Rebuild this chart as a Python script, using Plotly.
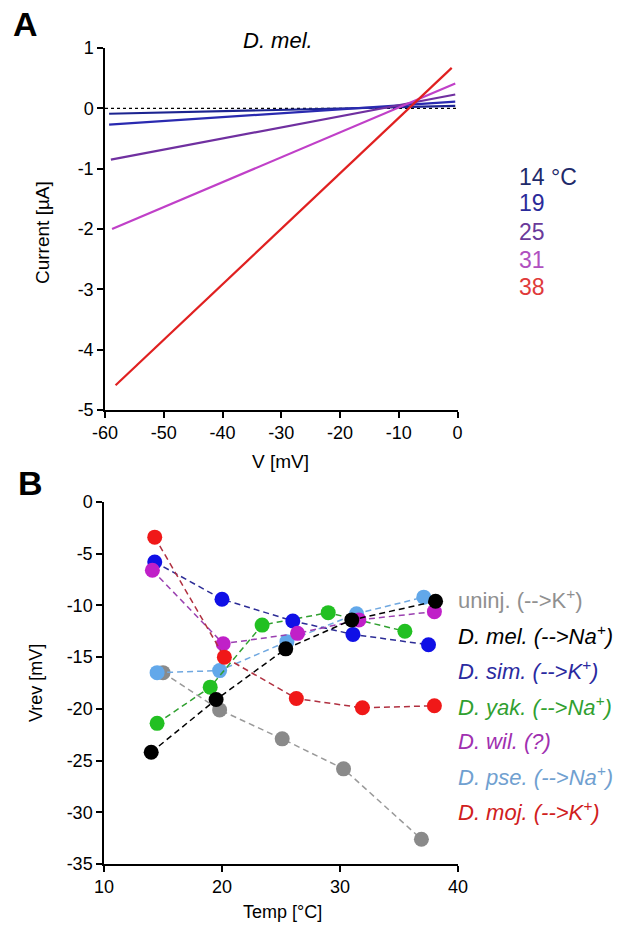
import plotly.graph_objects as go

W, H = 639, 926

# ---------------- Panel A data ----------------
temps_A = ["14 °C", "19", "25", "31", "38"]
V_A = {
    "14 °C": [-59.3, -0.4],
    "19": [-59.3, -0.4],
    "25": [-59.0, -0.4],
    "31": [-58.8, -0.4],
    "38": [-58.2, -1.0],
}
I_A = {
    "14 °C": [-0.09, 0.04],
    "19": [-0.27, 0.11],
    "25": [-0.85, 0.23],
    "31": [-2.0, 0.41],
    "38": [-4.59, 0.67],
}
line_col_A = ["#1c2490", "#2a2ab0", "#7030a0", "#c040c8", "#e02020"]
text_col_A = ["#1e2a6a", "#2a2a9a", "#6a3a9a", "#b050c0", "#e03a3a"]
zero_V = [-60, 0]
zero_I = [0, 0]
xticks_A = [-60, -50, -40, -30, -20, -10, 0]
xtick_text_A = ["-60", "-50", "-40", "-30", "-20", "-10", "0"]
yticks_A = [1, 0, -1, -2, -3, -4, -5]
ytick_text_A = ["1", "0", "-1", "-2", "-3", "-4", "-5"]

# ---------------- Panel B data ----------------
species = ["uninj", "pse", "green_yak", "sim", "wil", "moj", "mel"]
T_B = {
    "uninj": [15.0, 19.8, 25.1, 30.3, 36.9],
    "pse": [14.5, 19.8, 25.5, 31.4, 37.1],
    "green_yak": [14.5, 19.0, 23.4, 29.0, 35.5],
    "sim": [14.3, 20.0, 26.0, 31.1, 37.5],
    "wil": [14.1, 20.1, 26.4, 31.6, 38.0],
    "moj": [14.3, 20.2, 26.3, 31.9, 38.0],
    "mel": [14.0, 19.5, 25.4, 31.0, 38.1],
}
Vrev_B = {
    "uninj": [-16.5, -20.1, -22.9, -25.8, -32.6],
    "pse": [-16.5, -16.3, -13.5, -10.8, -9.2],
    "green_yak": [-21.4, -17.9, -11.9, -10.7, -12.5],
    "sim": [-5.8, -9.4, -11.5, -12.8, -13.8],
    "wil": [-6.6, -13.7, -12.7, -11.4, -10.6],
    "moj": [-3.4, -15.0, -19.0, -19.9, -19.7],
    "mel": [-24.2, -19.1, -14.2, -11.4, -9.6],
}
marker_col_B = {
    "uninj": "#8a8a8a", "pse": "#62a8ea", "green_yak": "#22c022", "sim": "#1010e6",
    "wil": "#c020c8", "moj": "#f01818", "mel": "#000000",
}
line_col_B = {
    "uninj": "#9a9a9a", "pse": "#70a8e0", "green_yak": "#30a030", "sim": "#2c2c96",
    "wil": "#9a40b0", "moj": "#b03040", "mel": "#000000",
}
xticks_B = [10, 20, 30, 40]
xtick_text_B = ["10", "20", "30", "40"]
yticks_B = [0, -5, -10, -15, -20, -25, -30, -35]
ytick_text_B = ["0", "-5", "-10", "-15", "-20", "-25", "-30", "-35"]
legend_B = [
    ("uninj. (-->K<sup>+</sup>)", "#909090", False),
    ("D. mel. (-->Na<sup>+</sup>)", "#000000", True),
    ("D. sim. (-->K<sup>+</sup>)", "#2a2aa0", True),
    ("D. yak. (-->Na<sup>+</sup>)", "#30a030", True),
    ("D. wil. (?)", "#a030b0", True),
    ("D. pse. (-->Na<sup>+</sup>)", "#70a0d0", True),
    ("D. moj. (-->K<sup>+</sup>)", "#d02020", True),
]

def px(x):
    return x / W

def py(y):
    return 1 - y / H

fig = go.Figure()

# Panel A traces
fig.add_trace(go.Scatter(x=zero_V, y=zero_I, mode="lines",
                         line=dict(color="black", width=1.2, dash="dot"),
                         xaxis="x", yaxis="y", showlegend=False))
for t, lc in zip(temps_A, line_col_A):
    fig.add_trace(go.Scatter(x=V_A[t], y=I_A[t], mode="lines",
                             line=dict(color=lc, width=2.2),
                             xaxis="x", yaxis="y", showlegend=False))

# Panel B traces
for s in species:
    fig.add_trace(go.Scatter(x=T_B[s], y=Vrev_B[s], mode="lines+markers",
                             line=dict(color=line_col_B[s], width=1.5, dash="6px,4px"),
                             marker=dict(color=marker_col_B[s], size=15, line=dict(width=0)),
                             xaxis="x2", yaxis="y2", showlegend=False))

reg = "Liberation Sans, Arial"

axis_common = dict(showgrid=False, zeroline=False, showline=True, linecolor="black",
                   linewidth=1.5, ticks="outside", ticklen=6, tickwidth=1.5,
                   tickcolor="black", automargin=False, tickmode="array")

fig.update_layout(
    template="none",
    width=W, height=H,
    margin=dict(l=0, r=0, t=0, b=0, pad=0),
    paper_bgcolor="white", plot_bgcolor="white",
    xaxis=dict(domain=[px(105), px(457.6)], range=[-60, 0], anchor="y",
               tickvals=xticks_A, ticktext=xtick_text_A,
               tickfont=dict(family=reg, size=18, color="black"),
               **axis_common),
    yaxis=dict(domain=[py(410), py(48)], range=[-5, 1], anchor="x",
               tickvals=yticks_A, ticktext=ytick_text_A,
               tickfont=dict(family=reg, size=18, color="black"),
               **axis_common),
    xaxis2=dict(domain=[px(104), px(458)], range=[10, 40], anchor="y2",
                tickvals=xticks_B, ticktext=xtick_text_B,
                tickfont=dict(family=reg, size=18, color="black"),
                **axis_common),
    yaxis2=dict(domain=[py(864), py(502)], range=[-35, 0], anchor="x2",
                tickvals=yticks_B, ticktext=ytick_text_B,
                tickfont=dict(family=reg, size=18, color="black"),
                **axis_common),
)

ann = []
def text(x, y, s, size, color="black", family=reg, xanchor="center", angle=0):
    ann.append(dict(x=px(x), y=py(y), xref="paper", yref="paper", text=s,
                    showarrow=False, xanchor=xanchor, yanchor="middle",
                    textangle=angle, font=dict(family=family, size=size, color=color)))

text(25, 24, "<b>A</b>", 34)
text(30, 483, "<b>B</b>", 34)
text(278, 40, "<i>D. mel.</i>", 22)
text(43, 233, "Current [µA]", 19, angle=-90)
text(280, 461, "V [mV]", 19)
text(36, 683, "Vrev [mV]", 18, angle=-90)
text(282, 912, "Temp [°C]", 18)

ys_A = [177, 203, 232, 260, 287]
for t, c, y in zip(temps_A, text_col_A, ys_A):
    text(517, y, t, 23, color=c, xanchor="left")

ys_B = [599, 635, 670, 706, 741, 776, 811]
for (s, c, it), y in zip(legend_B, ys_B):
    if it:
        s = "<i>" + s + "</i>"
    text(456, y, s, 22, color=c, xanchor="left")

fig.update_layout(annotations=ann)
fig.write_html("out.html")
